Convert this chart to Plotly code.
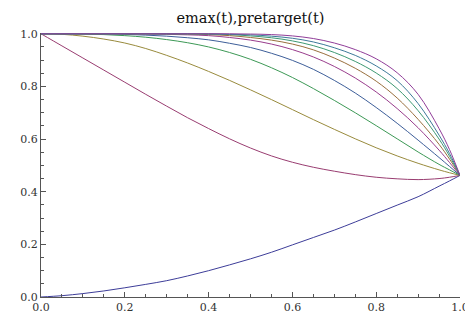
import plotly.graph_objects as go

t = [0, 0.05, 0.1, 0.15, 0.2, 0.25, 0.3, 0.35, 0.4, 0.45, 0.5, 0.55,
     0.6, 0.65, 0.7, 0.75, 0.8, 0.85, 0.9, 0.95, 0.975, 1.0]

pretarget = [0, 0.005, 0.013, 0.023, 0.035, 0.048, 0.062, 0.080, 0.100, 0.122, 0.145,
             0.170, 0.198, 0.226, 0.254, 0.285, 0.317, 0.349, 0.381, 0.421, 0.441, 0.462]
emax1 = [1, 0.954, 0.908, 0.862, 0.816, 0.770, 0.725, 0.681, 0.640, 0.601, 0.566,
         0.536, 0.512, 0.493, 0.478, 0.465, 0.455, 0.449, 0.446, 0.450, 0.455, 0.462]
emax2 = [1, 0.998, 0.991, 0.980, 0.965, 0.944, 0.918, 0.889, 0.857, 0.823, 0.787,
         0.750, 0.712, 0.674, 0.637, 0.601, 0.567, 0.536, 0.508, 0.483, 0.472, 0.462]
emax3 = [1, 1.0, 0.999, 0.997, 0.993, 0.987, 0.978, 0.966, 0.950, 0.929, 0.903,
         0.871, 0.834, 0.792, 0.747, 0.700, 0.651, 0.601, 0.551, 0.504, 0.483, 0.462]
emax4 = [1, 1.0, 1.0, 1.0, 0.998, 0.995, 0.991, 0.985, 0.977, 0.964, 0.948,
         0.926, 0.899, 0.865, 0.823, 0.775, 0.720, 0.660, 0.596, 0.530, 0.496, 0.462]
emax5 = [1, 1.0, 1.0, 1.0, 1.0, 0.999, 0.998, 0.996, 0.993, 0.986, 0.976,
         0.961, 0.940, 0.912, 0.876, 0.832, 0.779, 0.716, 0.643, 0.558, 0.511, 0.462]
emax6 = [1, 1.0, 1.0, 1.0, 1.0, 1.0, 1.0, 0.999, 0.997, 0.993, 0.986,
         0.976, 0.961, 0.939, 0.908, 0.869, 0.820, 0.756, 0.675, 0.580, 0.524, 0.462]
emax7 = [1, 1.0, 1.0, 1.0, 1.0, 1.0, 1.0, 1.0, 0.999, 0.997, 0.992,
         0.985, 0.973, 0.955, 0.929, 0.895, 0.851, 0.792, 0.708, 0.600, 0.535, 0.462]
emax8 = [1, 1.0, 1.0, 1.0, 1.0, 1.0, 1.0, 1.0, 1.0, 0.998, 0.996,
         0.991, 0.983, 0.969, 0.947, 0.918, 0.878, 0.822, 0.735, 0.615, 0.545, 0.462]
emax9 = [1, 1.0, 1.0, 1.0, 1.0, 1.0, 1.0, 1.0, 1.0, 1.0, 0.999,
         0.997, 0.992, 0.982, 0.965, 0.940, 0.905, 0.852, 0.770, 0.640, 0.560, 0.462]

series = [pretarget, emax1, emax2, emax3, emax4, emax5, emax6, emax7, emax8, emax9]
colors = ["#3d3d99", "#993d71", "#998b3d", "#3d9956", "#3d5e99",
          "#993d8d", "#996f3d", "#3d9972", "#3d7a99", "#903d99"]

x_ticks = [0.0, 0.2, 0.4, 0.6, 0.8, 1.0]
x_labels = ["0.0", "0.2", "0.4", "0.6", "0.8", "1.0"]
y_ticks = [0.0, 0.2, 0.4, 0.6, 0.8, 1.0]
y_labels = ["0.0", "0.2", "0.4", "0.6", "0.8", "1.0"]

fig = go.Figure()
for ys, c in zip(series, colors):
    fig.add_trace(go.Scatter(x=t, y=ys, mode="lines",
                             line=dict(color=c, width=1, shape="spline", smoothing=1.0),
                             showlegend=False, hoverinfo="skip"))

font_family = "DejaVu Serif"
axis_common = dict(
    showgrid=False, zeroline=False, showline=True, linecolor="#555555", linewidth=1,
    ticks="inside", ticklen=5, tickcolor="#555555", tickwidth=1,
    tickfont=dict(family=font_family, size=11, color="#333333"),
    ticklabeloverflow="allow",
    minor=dict(ticks="inside", ticklen=3, dtick=0.05, tickcolor="#555555", tickwidth=1, showgrid=False),
)

fig.update_layout(
    width=473, height=318,
    margin=dict(l=29, r=13, t=25, b=24),
    paper_bgcolor="white", plot_bgcolor="white",
    title=dict(text="emax(t),pretarget(t)", x=0.5, xref="paper", xanchor="center",
               y=1 - 10 / 310, yanchor="middle", yref="container",
               font=dict(family=font_family, size=14.5, color="#111111")),
    xaxis=dict(range=[0, 1], tickvals=x_ticks, ticktext=x_labels, **axis_common),
    yaxis=dict(range=[0, 1.003], tickvals=y_ticks, ticktext=y_labels, **axis_common),
)

fig.write_html("out.html")
